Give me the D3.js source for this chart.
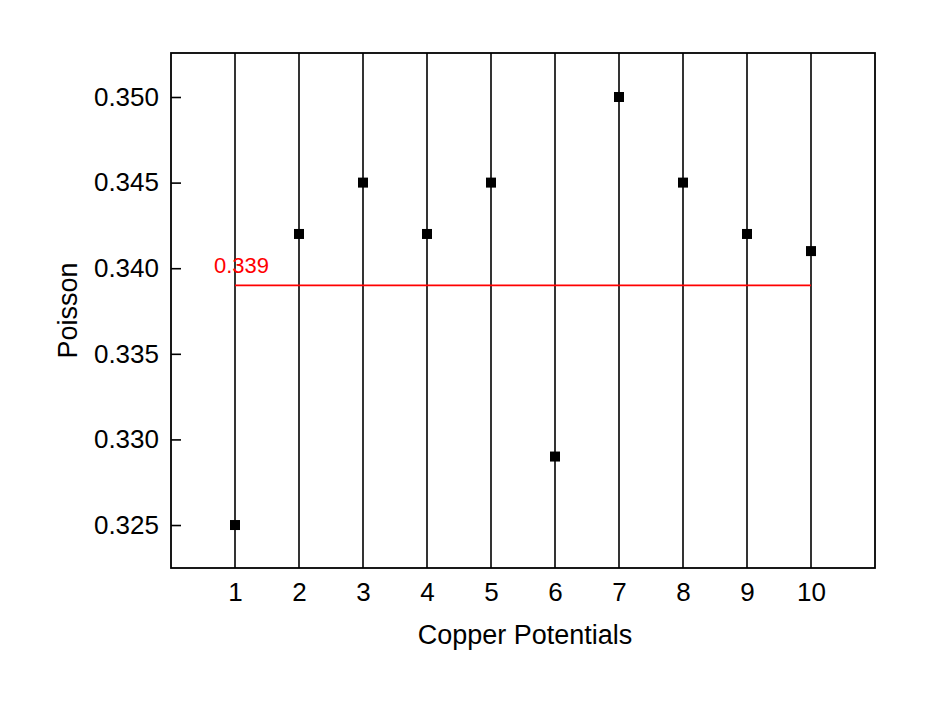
<!DOCTYPE html>
<html>
<head>
<meta charset="utf-8">
<script src="https://d3js.org/d3.v7.min.js"></script>
<style>
  body { margin: 0; background: #fff; }
  text { font-family: "Liberation Sans", Arial, sans-serif; }
</style>
</head>
<body>
<div id="chart"></div>
<script>
const w = 943
const h = 707
const padL = 171, padR = 875, padT = 53, padB = 568

// data
const potentials = [1, 2, 3, 4, 5, 6, 7, 8, 9, 10]
const poisson = [0.325, 0.342, 0.345, 0.342, 0.345, 0.329, 0.350, 0.345, 0.342, 0.341]
const meanValue = 0.339
const yTicks = [0.325, 0.330, 0.335, 0.340, 0.345, 0.350]

const svg = d3.select("#chart")
  .append("svg")
  .attr("width", w)
  .attr("height", h)

const x = d3.scaleLinear().domain([0, 11]).range([padL, padR])
const y = d3.scaleLinear().domain([0.32249, 0.35257]).range([padB, padT])

// vertical drop lines at each category
svg.selectAll("line.drop")
  .data(potentials)
  .enter()
  .append("line")
  .attr("class", "drop")
  .attr("x1", d => x(d)).attr("x2", d => x(d))
  .attr("y1", padT).attr("y2", padB)
  .attr("stroke", "#000")
  .attr("stroke-width", 1.6)

// mean line
svg.append("line")
  .attr("x1", x(potentials[0])).attr("x2", x(potentials[potentials.length - 1]))
  .attr("y1", y(meanValue)).attr("y2", y(meanValue))
  .attr("stroke", "#ff0000")
  .attr("stroke-width", 1.6)

svg.append("text")
  .attr("x", x(potentials[0]) - 21)
  .attr("y", y(meanValue) - 12)
  .attr("fill", "#ff0000")
  .attr("font-size", "22px")
  .text(d3.format(".3f")(meanValue))

// points
const s = 10
svg.selectAll("rect.pt")
  .data(potentials)
  .enter()
  .append("rect")
  .attr("class", "pt")
  .attr("x", d => x(d) - s / 2)
  .attr("y", (d, i) => y(poisson[i]) - s / 2)
  .attr("width", s)
  .attr("height", s)
  .attr("fill", "#000")

// axes
const xAxis = d3.axisBottom(x)
  .tickValues(potentials)
  .tickSize(0)
  .tickPadding(15)
  .tickFormat(d3.format("d"))

const yAxis = d3.axisLeft(y)
  .tickValues(yTicks)
  .tickSize(-10)
  .tickPadding(12)
  .tickFormat(d3.format(".3f"))

const gx = svg.append("g")
  .attr("transform", `translate(0, ${padB})`)
  .call(xAxis)
gx.select(".domain").remove()
gx.selectAll("text").attr("font-size", "26px").attr("fill", "#000").style("font-family", "Liberation Sans, Arial, sans-serif")

const gy = svg.append("g")
  .attr("transform", `translate(${padL}, 0)`)
  .call(yAxis)
gy.select(".domain").remove()
gy.selectAll("line").attr("stroke-width", 1.6)
gy.selectAll("text").attr("font-size", "26px").attr("fill", "#000").style("font-family", "Liberation Sans, Arial, sans-serif")

// frame
svg.append("rect")
  .attr("x", padL).attr("y", padT)
  .attr("width", padR - padL).attr("height", padB - padT)
  .attr("fill", "none")
  .attr("stroke", "#000")
  .attr("stroke-width", 1.8)

// titles
svg.append("text")
  .attr("x", (padL + padR) / 2 + 2)
  .attr("y", 644)
  .attr("text-anchor", "middle")
  .attr("font-size", "27px")
  .text("Copper Potentials")

svg.append("text")
  .attr("transform", "rotate(-90)")
  .attr("x", -(padT + padB) / 2)
  .attr("y", 77)
  .attr("text-anchor", "middle")
  .attr("font-size", "27px")
  .text("Poisson")
</script>
</body>
</html>
